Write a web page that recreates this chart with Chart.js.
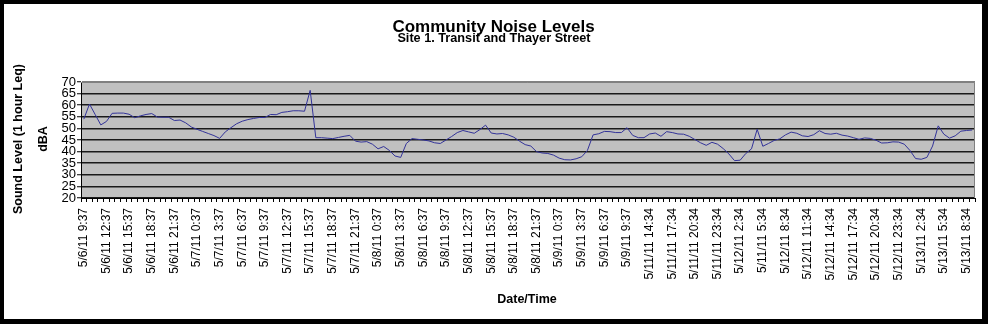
<!DOCTYPE html>
<html>
<head>
<meta charset="utf-8">
<script src="https://cdn.jsdelivr.net/npm/chart.js@4/dist/chart.umd.min.js"></script>
<style>
  html, body { margin: 0; padding: 0; background: #000; width: 988px; height: 324px; overflow: hidden; }
  #frame { position: absolute; left: 4px; top: 4px; width: 978px; height: 315px; background: #fff; }
  canvas { display: block; }
</style>
</head>
<body>
<div id="frame"><canvas id="noise" width="978" height="315"></canvas></div>
<script>
// Labels shown on the time axis (one every fourth reading)
const tickLabels = [
  '5/6/11 9:37', '5/6/11 12:37', '5/6/11 15:37', '5/6/11 18:37', '5/6/11 21:37',
  '5/7/11 0:37', '5/7/11 3:37', '5/7/11 6:37', '5/7/11 9:37', '5/7/11 12:37',
  '5/7/11 15:37', '5/7/11 18:37', '5/7/11 21:37', '5/8/11 0:37', '5/8/11 3:37',
  '5/8/11 6:37', '5/8/11 9:37', '5/8/11 12:37', '5/8/11 15:37', '5/8/11 18:37',
  '5/8/11 21:37', '5/9/11 0:37', '5/9/11 3:37', '5/9/11 6:37', '5/9/11 9:37',
  '5/11/11 14:34', '5/11/11 17:34', '5/11/11 20:34', '5/11/11 23:34', '5/12/11 2:34',
  '5/11/11 5:34', '5/12/11 8:34', '5/12/11 11:34', '5/12/11 14:34', '5/12/11 17:34',
  '5/12/11 20:34', '5/12/11 23:34', '5/13/11 2:34', '5/13/11 5:34', '5/13/11 8:34'
];

// Sound level readings, dBA (1 hour Leq)
const soundLevels = [
  54, 60.5, 56, 51.5, 53, 56.5, 56.6, 56.6, 56.1, 54.6,
  55.4, 56, 56.4, 54.9, 54.8, 54.8, 53.4, 53.6, 52.4, 50.6,
  49.6, 48.7, 47.8, 46.9, 45.7, 48.5, 50.3, 52, 53.1, 53.8,
  54.3, 54.7, 54.7, 56, 55.9, 56.9, 57.2, 57.6, 57.6, 57.4,
  66.4, 46, 46, 45.8, 45.6, 46.1, 46.6, 47, 44.5, 44.1,
  44.3, 43.2, 41.2, 42.2, 40.5, 38.1, 37.5, 43.5, 45.6, 45.3,
  45, 44.6, 43.8, 43.5, 45, 46.5, 48.2, 49.1, 48.5, 47.9,
  49.5, 51.4, 48, 47.6, 47.8, 47.2, 46.2, 44.5, 43, 42.4,
  40, 39.4, 39.2, 38.5, 37.2, 36.5, 36.4, 36.9, 37.8, 40.5,
  47.2, 47.7, 48.7, 48.6, 48.2, 48.2, 50.3, 47, 46, 46,
  47.6, 48, 46.6, 48.6, 48.2, 47.6, 47.5, 46.6, 45.2, 43.8,
  42.7, 44, 43.2, 41.3, 39, 36.1, 36.3, 39.2, 41.2, 49.6,
  42.3, 43.5, 44.8, 45.5, 47.2, 48.4, 47.9, 46.8, 46.5, 47.3,
  49, 47.8, 47.5, 47.9, 47.1, 46.7, 46, 45.3, 45.9, 45.7,
  44.9, 43.7, 43.8, 44.2, 44.1, 43.2, 40.5, 37, 36.7, 37.5,
  42.4, 51.1, 47.5, 45.8, 46.8, 48.8, 49.1, 49.3
];

// Value axis range
const yMin = 20;
const yMax = 70;
const yStep = 5;

const categories = soundLevels.map((_, i) => (i % 4 === 0 ? (tickLabels[i / 4] || '') : ''));

const FONT = "'Liberation Sans', Arial, sans-serif";

const plotDecor = {
  id: 'plotDecor',
  beforeDraw(chart) {
    const { ctx, chartArea: a } = chart;
    ctx.save();
    ctx.fillStyle = '#c0c0c0';
    ctx.fillRect(a.left, a.top, a.right - a.left, a.bottom - a.top);
    ctx.restore();
  },
  beforeDatasetsDraw(chart) {
    const { ctx, chartArea: a } = chart;
    ctx.save();
    ctx.strokeStyle = '#808080';
    ctx.lineWidth = 1;
    ctx.beginPath();
    ctx.moveTo(a.left, Math.round(a.top) + 0.5);
    ctx.lineTo(Math.round(a.right) - 0.5, Math.round(a.top) + 0.5);
    ctx.lineTo(Math.round(a.right) - 0.5, a.bottom);
    ctx.stroke();
    ctx.restore();
  },
  afterDraw(chart) {
    const { ctx } = chart;
    ctx.save();
    ctx.fillStyle = '#000';
    ctx.textAlign = 'center';
    ctx.textBaseline = 'alphabetic';

    ctx.font = 'bold 17px ' + FONT;
    ctx.fillText('Community Noise Levels', 489.5, 27.8);
    ctx.font = 'bold 12.7px ' + FONT;
    ctx.fillText('Site 1. Transit and Thayer Street', 490, 38.2);

    ctx.font = 'bold 12.5px ' + FONT;
    ctx.fillText('Date/Time', 523, 299);

    ctx.save();
    ctx.translate(17.6, 135);
    ctx.rotate(-Math.PI / 2);
    ctx.fillText('Sound Level (1 hour Leq)', 0, 0);
    ctx.restore();

    ctx.save();
    ctx.translate(42.6, 135);
    ctx.rotate(-Math.PI / 2);
    ctx.fillText('dBA', 0, 0);
    ctx.restore();

    ctx.restore();
  }
};

new Chart(document.getElementById('noise'), {
  type: 'line',
  data: {
    labels: categories,
    datasets: [{
      data: soundLevels,
      borderColor: '#333399',
      borderWidth: 1,
      pointRadius: 0,
      tension: 0,
      fill: false
    }]
  },
  options: {
    responsive: false,
    animation: false,
    devicePixelRatio: 1,
    layout: { padding: { left: 0, top: 78, right: 7, bottom: 0 } },
    plugins: {
      legend: { display: false },
      tooltip: { enabled: false },
      title: { display: false }
    },
    scales: {
      x: {
        type: 'category',
        offset: true,
        afterFit(scale) {
          scale.height = 121;
          scale.paddingLeft = 0;
          scale.paddingRight = 0;
        },
        grid: {
          display: true,
          offset: true,
          drawOnChartArea: false,
          drawTicks: true,
          tickLength: 4,
          tickColor: '#000'
        },
        border: { display: true, color: '#000', width: 1 },
        ticks: {
          autoSkip: false,
          minRotation: 90,
          maxRotation: 90,
          padding: 6,
          color: '#000',
          font: { family: FONT, size: 12 }
        }
      },
      y: {
        min: yMin,
        max: yMax,
        afterFit(scale) {
          scale.width = 77;
          scale.paddingTop = 0;
          scale.paddingBottom = 0;
        },
        grid: {
          color: (c) => (c.tick && c.tick.value === yMax ? '#808080' : '#1a1a1a'),
          lineWidth: 1.5,
          drawTicks: true,
          tickLength: 4,
          tickColor: '#000',
          tickWidth: 1
        },
        border: { display: true, color: '#000', width: 1 },
        ticks: {
          stepSize: yStep,
          autoSkip: false,
          padding: 1,
          color: '#000',
          font: { family: FONT, size: 13 }
        }
      }
    }
  },
  plugins: [plotDecor]
});
</script>
</body>
</html>
